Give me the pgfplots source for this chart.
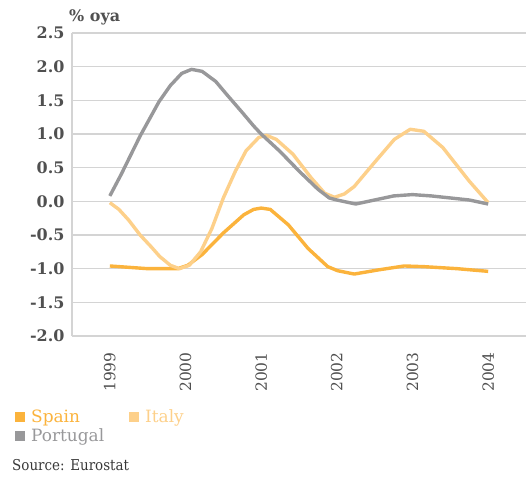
\documentclass[border=0pt]{standalone}
\usepackage{pgfplots}
\pgfplotsset{compat=1.18}
\usepackage{fontspec}
\setmainfont{DejaVu Serif}
\newfontfamily\cond{DejaVu Serif Condensed}
\definecolor{spain}{HTML}{FBB33C}
\definecolor{italy}{HTML}{FDD08A}
\definecolor{portugal}{HTML}{98989A}
\definecolor{txt}{HTML}{505050}
\definecolor{gridc}{HTML}{D4D4D4}
\begin{document}
\begin{tikzpicture}
\begin{axis}[
  scale only axis, width=454bp, height=303bp,
  xmin=-0.5, xmax=5.5, ymin=-2, ymax=2.5,
  xtick={0,1,2,3,4,5},
  xticklabels={1999,2000,2001,2002,2003,2004},
  ytick={-2,-1.5,-1,-0.5,0,0.5,1,1.5,2,2.5},
  /pgf/number format/assume math mode=true,
  /pgf/number format/fixed, /pgf/number format/fixed zerofill, /pgf/number format/precision=1,
  x tick label style={rotate=90, anchor=east, font=\fontsize{15.5}{18}\selectfont, text=txt},
  y tick label style={font=\bfseries\fontsize{16}{18}\selectfont, text=txt},
  xticklabel shift=13bp, yticklabel shift=4bp,
  major tick length=0pt,
  axis x line*=bottom, axis y line*=left,
  axis line style={gridc, line width=1.2bp, -},
  ymajorgrids, grid style={gridc, line width=1.2bp},
  clip=false,
  legend columns=2,
  legend cell align=left,
  legend image code/.code={\fill[#1,draw=none] (0bp,-5bp) rectangle (10bp,5bp);},
  legend style={draw=none, fill=none, inner sep=0pt, at={(-0.1256,-0.235)}, anchor=north west,
    font=\fontsize{17}{19}\selectfont,
    /tikz/every odd column/.style={column sep=4bp},
    /tikz/column 2/.style={column sep=23bp},
    row sep=1bp},
  every axis plot/.append style={line width=3.4bp, line join=round},
]
\coordinate (O) at (rel axis cs:0,0);
\coordinate (TL) at (rel axis cs:0,1);
\addplot[spain] coordinates {
(0,-0.96) (0.5,-1.00) (0.9,-1.00) (1.03,-0.95) (1.22,-0.79) (1.5,-0.47) (1.77,-0.20)
(1.9,-0.12) (2.0,-0.10) (2.12,-0.12) (2.36,-0.35) (2.62,-0.70) (2.88,-0.97) (3.01,-1.03)
(3.23,-1.08) (3.54,-1.02) (3.89,-0.96) (4.15,-0.97) (4.59,-1.00) (5.0,-1.04)};
\addlegendentry{\textcolor{spain}{Spain}}
\addplot[italy] coordinates {
(0,-0.02) (0.12,-0.12) (0.25,-0.28) (0.4,-0.50) (0.55,-0.68) (0.66,-0.82) (0.8,-0.95)
(0.92,-1.00) (1.05,-0.95) (1.2,-0.75) (1.35,-0.40) (1.5,0.05) (1.66,0.45) (1.8,0.75)
(1.97,0.95) (2.07,0.98) (2.2,0.92) (2.42,0.70) (2.66,0.35) (2.84,0.12) (2.97,0.06)
(3.1,0.11) (3.23,0.22) (3.5,0.58) (3.76,0.92) (3.97,1.07) (4.15,1.04) (4.4,0.80)
(4.75,0.30) (5.0,-0.02)};
\addlegendentry{\textcolor{italy}{Italy}}
\addplot[portugal] coordinates {
(0,0.08) (0.15,0.40) (0.4,0.97) (0.65,1.48) (0.8,1.72) (0.95,1.90) (1.08,1.96)
(1.22,1.93) (1.4,1.78) (1.55,1.58) (1.75,1.32) (1.9,1.12) (2.0,1.00) (2.25,0.74)
(2.5,0.45) (2.75,0.18) (2.9,0.05) (3.0,0.02) (3.25,-0.04) (3.5,0.02) (3.75,0.08)
(4.0,0.10) (4.25,0.08) (4.5,0.05) (4.75,0.02) (5.0,-0.04)};
\addlegendentry{\textcolor{portugal}{Portugal}}
\end{axis}
\node[anchor=base west, font=\bfseries\fontsize{16}{18}\selectfont, text=txt, inner sep=0pt]
  at ([xshift=-3bp,yshift=11bp]TL) {\% oya};
\node[anchor=base west, font=\cond\fontsize{15}{17}\selectfont, text=txt!70!black, inner sep=0pt]
  at ([xshift=-60bp,yshift=-134bp]O) {Source: Eurostat};
\path[use as bounding box] ([xshift=-72bp,yshift=336bp]O) rectangle ([xshift=456bp,yshift=-142bp]O);
\end{tikzpicture}
\end{document}
